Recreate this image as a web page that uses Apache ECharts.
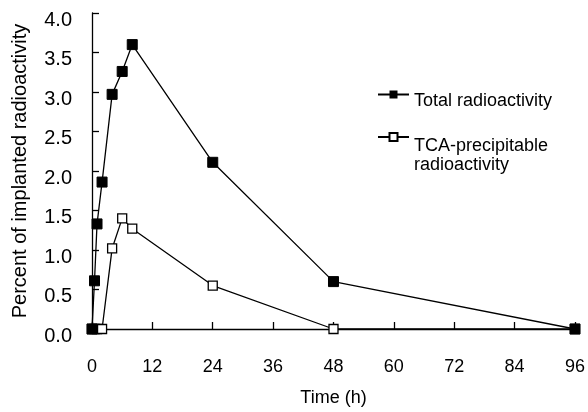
<!DOCTYPE html>
<html>
	<head>
		<meta charset="UTF-8">
		<title>Radioactivity</title>
		<style>
			html, body { margin: 0; padding: 0; background: #fff; }
			#main { width: 588px; height: 412px; }
		</style>
	</head>
	<body>
		<div id="main"></div>
	</body>
	<script src="https://cdn.jsdelivr.net/npm/echarts@6/dist/echarts.min.js" type="text/javascript" charset="utf-8"></script>
	<script type="text/javascript">
		// time points (h)
		var hours = [0, 0.5, 1, 2, 4, 6, 8, 24, 48, 96];
		// percent of implanted radioactivity
		var totalVals = [0, 0.61, 1.33, 1.86, 2.97, 3.26, 3.60, 2.11, 0.60, 0];
		var tcaVals = [0, 0, 0, 0, 1.02, 1.40, 1.27, 0.55, 0, 0];
		var xTicks = [0, 12, 24, 36, 48, 60, 72, 84, 96];
		var seriesNames = ['Total radioactivity', 'TCA-precipitable radioactivity'];

		function pairs(xs, ys) {
			return xs.map(function (x, i) { return [x, ys[i]]; });
		}

		var font = 'Liberation Sans, Arial, sans-serif';
		var chart = echarts.init(document.getElementById('main'));

		// legend items: text sits a little below the marker, like the original
		var legendBase = {
			orient: 'vertical',
			left: 372,
			itemWidth: 31,
			itemHeight: 10,
			selectedMode: false,
			textStyle: {
				fontFamily: font, fontSize: 18, color: '#000',
				rich: {
					s: { fontSize: 18, lineHeight: 14 },
					s2: { fontSize: 18, lineHeight: 37 },
					t: { fontFamily: font, fontSize: 18, lineHeight: 19, color: '#000' }
				}
			}
		};

		var option = {
			animation: false,
			backgroundColor: '#fff',
			grid: { left: 92, right: 10, top: 13, bottom: 75 },
			legend: [
				Object.assign({}, legendBase, {
					top: 71,
					data: [seriesNames[0]],
					formatter: function () { return '{s| }\n{t|Total radioactivity}'; }
				}),
				Object.assign({}, legendBase, {
					top: 104,
					data: [seriesNames[1]],
					formatter: function () { return '{s2| }\n{t|TCA-precipitable}\n{t|radioactivity}'; }
				})
			],
			xAxis: {
				type: 'value',
				min: 0,
				max: 96,
				interval: 12,
				name: 'Time (h)',
				nameLocation: 'middle',
				nameGap: 60,
				nameTextStyle: { fontFamily: font, fontSize: 18, color: '#000' },
				axisLine: { lineStyle: { color: '#000', width: 1.3 } },
				axisTick: { inside: true, length: 7, lineStyle: { color: '#000', width: 1.3 } },
				axisLabel: {
					margin: 29,
					fontFamily: font, fontSize: 18, color: '#000',
					customValues: xTicks
				},
				splitLine: { show: false }
			},
			yAxis: {
				type: 'value',
				min: 0,
				max: 4,
				interval: 0.5,
				name: 'Percent of implanted radioactivity',
				nameLocation: 'middle',
				nameGap: 62,
				nameTextStyle: { fontFamily: font, fontSize: 20, color: '#000' },
				axisLine: { show: true, lineStyle: { color: '#000', width: 1.3 } },
				axisTick: { show: true, inside: true, length: 7, lineStyle: { color: '#000', width: 1.3 } },
				axisLabel: {
					margin: 20,
					verticalAlign: 'top',
					lineHeight: 14,
					fontFamily: font, fontSize: 20, color: '#000',
					formatter: function (v) { return v.toFixed(1); }
				},
				splitLine: { show: false }
			},
			series: [
				{
					name: seriesNames[1],
					type: 'line',
					data: pairs(hours, tcaVals),
					symbol: 'rect',
					symbolSize: 9,
					lineStyle: { color: '#000', width: 1.3 },
					itemStyle: { color: '#fff', borderColor: '#000', borderWidth: 1.3 },
					z: 2
				},
				{
					name: seriesNames[0],
					type: 'line',
					data: pairs(hours, totalVals),
					symbol: 'rect',
					symbolSize: 10,
					lineStyle: { color: '#000', width: 1.3 },
					itemStyle: { color: '#000', borderColor: '#000' },
					z: 3
				}
			]
		};

		chart.setOption(option);
	</script>
</html>
